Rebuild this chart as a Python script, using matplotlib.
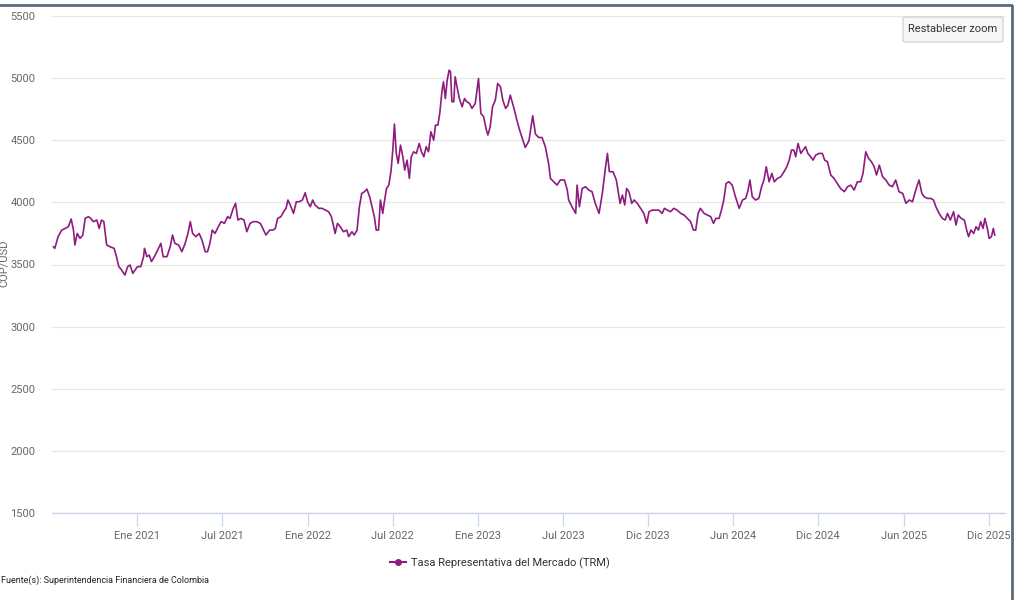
import numpy as np
import matplotlib
matplotlib.use("Agg")
import matplotlib.pyplot as plt
from matplotlib.lines import Line2D
from matplotlib.patches import FancyBboxPatch

plt.rcParams["font.family"] = ["Roboto", "DejaVu Sans"]

# días contados desde el 1 de julio de 2020 y TRM (COP/USD)
inicio = np.datetime64("2020-07-01")
dias = [
    5, 8, 15, 23, 30, 37, 43, 48, 51, 56, 62, 68, 73, 80, 85, 90, 98, 103, 108, 113,
    119, 126, 135, 140, 145, 151, 158, 164, 169, 175, 180, 185, 192, 198, 200, 205, 210, 215, 223, 230,
    235, 240, 248, 255, 260, 265, 273, 280, 287, 293, 298, 303, 310, 317, 323, 330, 335, 340, 345, 351,
    358, 364, 371, 378, 383, 390, 395, 400, 406, 413, 419, 426, 433, 440, 448, 455, 460, 468, 475, 480,
    485, 492, 498, 503, 507, 512, 519, 525, 531, 538, 544, 549, 555, 560, 565, 573, 580, 587, 594, 600,
    605, 608, 613, 619, 626, 633, 637, 644, 649, 655, 660, 665, 671, 676, 682, 687, 692, 696, 701, 705,
    710, 713, 718, 723, 728, 732, 735, 739, 743, 748, 753, 757, 762, 767, 771, 776, 782, 788, 793, 798,
    803, 808, 813, 819, 823, 828, 832, 837, 840, 844, 848, 852, 855, 858, 862, 865, 869, 874, 880, 885,
    890, 896, 901, 908, 915, 920, 926, 931, 935, 940, 945, 951, 956, 962, 967, 973, 978, 983, 990, 998,
    1003, 1015, 1023, 1031, 1037, 1044, 1051, 1058, 1065, 1069, 1076, 1083, 1090, 1099, 1105, 1108, 1115, 1123, 1126, 1131,
    1137, 1144, 1151, 1158, 1165, 1173, 1180, 1187, 1191, 1195, 1203, 1210, 1218, 1223, 1228, 1232, 1237, 1243, 1248, 1255,
    1262, 1269, 1275, 1280, 1287, 1294, 1301, 1308, 1313, 1319, 1326, 1333, 1340, 1348, 1355, 1362, 1369, 1375, 1380, 1385,
    1390, 1398, 1405, 1412, 1418, 1423, 1430, 1435, 1440, 1445, 1451, 1458, 1465, 1473, 1480, 1487, 1492, 1496, 1501, 1508,
    1515, 1521, 1526, 1531, 1537, 1543, 1548, 1555, 1562, 1569, 1575, 1580, 1585, 1590, 1594, 1599, 1605, 1610, 1615, 1620,
    1626, 1631, 1637, 1644, 1651, 1656, 1662, 1669, 1676, 1683, 1690, 1698, 1705, 1712, 1719, 1726, 1733, 1738, 1744, 1750,
    1756, 1762, 1767, 1773, 1780, 1787, 1794, 1801, 1808, 1815, 1823, 1830, 1837, 1844, 1851, 1858, 1864, 1869, 1876, 1883,
    1889, 1894, 1901, 1908, 1914, 1919, 1925, 1932, 1937, 1942, 1948, 1955, 1960, 1964, 1969, 1975, 1980, 1985, 1990, 1995,
    1999, 2005, 2008, 2013, 2017, 2020,
]
trm = [
    3643, 3630, 3724, 3777, 3790, 3804, 3866, 3777, 3657, 3750, 3710, 3737, 3871, 3885, 3871, 3845, 3858, 3790, 3858, 3845,
    3657, 3643, 3630, 3563, 3483, 3456, 3415, 3483, 3496, 3429, 3456, 3483, 3483, 3563, 3630, 3563, 3576, 3523, 3576, 3630,
    3670, 3563, 3563, 3643, 3737, 3670, 3657, 3603, 3670, 3750, 3845, 3750, 3724, 3750, 3697, 3603, 3603, 3670, 3777, 3750,
    3804, 3845, 3831, 3885, 3871, 3952, 3992, 3858, 3871, 3858, 3764, 3831, 3845, 3845, 3831, 3777, 3737, 3777, 3777, 3790,
    3871, 3885, 3925, 3952, 4019, 3979, 3911, 4005, 4005, 4019, 4078, 4005, 3965, 4019, 3979, 3952, 3952, 3938, 3925, 3885,
    3804, 3750, 3831, 3804, 3764, 3777, 3724, 3764, 3737, 3777, 3965, 4072, 4086, 4107, 4045, 3965, 3885, 3777, 3777, 4019,
    3911, 3992, 4112, 4139, 4260, 4448, 4630, 4394, 4314, 4461, 4367, 4260, 4340, 4193, 4367, 4407, 4394, 4474, 4407, 4367,
    4448, 4407, 4568, 4501, 4622, 4622, 4716, 4903, 4970, 4836, 4984, 5064, 5051, 4810, 4810, 5011, 4930, 4836, 4769, 4836,
    4810, 4796, 4756, 4796, 4997, 4716, 4689, 4595, 4542, 4609, 4769, 4823, 4957, 4930, 4823, 4756, 4783, 4863, 4769, 4649,
    4582, 4442, 4496, 4697, 4549, 4522, 4522, 4448, 4314, 4193, 4166, 4139, 4180, 4180, 4099, 4019, 3965, 3911, 4139, 3965,
    4112, 4126, 4099, 4086, 3992, 3911, 4072, 4287, 4394, 4247, 4247, 4180, 3992, 4059, 3979, 4112, 4086, 3992, 4019, 3992,
    3952, 3911, 3831, 3925, 3938, 3938, 3938, 3911, 3952, 3938, 3925, 3952, 3938, 3911, 3898, 3871, 3845, 3777, 3777, 3911,
    3952, 3911, 3898, 3885, 3831, 3871, 3871, 3938, 4019, 4153, 4166, 4139, 4045, 3952, 4019, 4032, 4099, 4180, 4045, 4019,
    4032, 4126, 4180, 4287, 4166, 4233, 4166, 4193, 4206, 4247, 4287, 4340, 4421, 4421, 4367, 4474, 4394, 4421, 4448, 4394,
    4367, 4340, 4381, 4394, 4394, 4340, 4327, 4220, 4193, 4153, 4112, 4086, 4126, 4139, 4099, 4166, 4166, 4233, 4407, 4354,
    4327, 4287, 4220, 4300, 4206, 4180, 4139, 4126, 4180, 4086, 4072, 3992, 4019, 4005, 4099, 4180, 4072, 4045, 4032, 4032,
    4019, 3965, 3911, 3871, 3858, 3911, 3858, 3925, 3818, 3898, 3871, 3858, 3777, 3724, 3777, 3750, 3804, 3777, 3845, 3790,
    3871, 3777, 3710, 3724, 3790, 3737,
]

tick_fechas = ["2021-01-01", "2021-07-02", "2022-01-01", "2022-07-02", "2023-01-01", "2023-07-02",
               "2023-12-31", "2024-06-30", "2024-12-29", "2025-06-30", "2025-12-29"]
tick_labels = ["Ene 2021", "Jul 2021", "Ene 2022", "Jul 2022", "Ene 2023", "Jul 2023",
               "Dic 2023", "Jun 2024", "Dic 2024", "Jun 2025", "Dic 2025"]
y_ticks = [1500, 2000, 2500, 3000, 3500, 4000, 4500, 5000, 5500]

fechas = inicio + np.array(dias).astype("timedelta64[D]")
color_linea = "#8e1c80"
gris = "#666666"

fig = plt.figure(figsize=(10.24, 6.0), dpi=100)
ax = fig.add_axes([52 / 1024, 1 - 513 / 600, (1005 - 52) / 1024, (513 - 16) / 600])

ax.plot(fechas, trm, color=color_linea, lw=1.2, solid_joinstyle="round",
        label="Tasa Representativa del Mercado (TRM)")

ax.set_ylim(1500, 5500)
ax.set_yticks(y_ticks)
ax.set_xlim(inicio + np.timedelta64(2, "D"), inicio + np.timedelta64(2042, "D"))
ax.set_xticks([np.datetime64(f) for f in tick_fechas])
ax.set_xticklabels(tick_labels)

# estilo tipo highcharts
ax.grid(axis="y", color="#e6e6e6", lw=0.9)
ax.set_axisbelow(True)
for lado in ["left", "right", "top"]:
    ax.spines[lado].set_visible(False)
ax.spines["bottom"].set_color("#ccd6eb")
ax.spines["bottom"].set_linewidth(1.0)
ax.tick_params(axis="y", length=0, pad=12, labelsize=8, labelcolor=gris)
ax.tick_params(axis="x", length=9, width=0.9, color="#ccd6eb", pad=4,
               labelsize=8, labelcolor=gris)

fig.text(4 / 1024, 1 - 263 / 600, "COP/USD", rotation=90, ha="center", va="center",
         fontsize=8, color=gris)

leg = ax.legend(handles=[Line2D([], [], color=color_linea, lw=1.5, marker="o", markersize=4)],
                labels=["Tasa Representativa del Mercado (TRM)"],
                loc="center", bbox_to_anchor=(500 / 1024, 1 - 563 / 600),
                bbox_transform=fig.transFigure, frameon=False, fontsize=8,
                handlelength=1.4, handletextpad=0.5)
for t in leg.get_texts():
    t.set_color("#333333")

fig.text(1 / 1024, 1 - 580 / 600, "Fuente(s): Superintendencia Financiera de Colombia",
         ha="left", va="center", fontsize=6.5, color="#222222")

# boton "Restablecer zoom"
boton = FancyBboxPatch((903 / 1024, 1 - 42 / 600), 100 / 1024, 25 / 600,
                       boxstyle="round,pad=0,rounding_size=0.003",
                       transform=fig.transFigure, facecolor="#f7f7f7",
                       edgecolor="#cccccc", lw=0.8)
fig.patches.append(boton)
fig.text(953 / 1024, 1 - 29.5 / 600, "Restablecer zoom", ha="center", va="center",
         fontsize=8, color="#333333")

# marco del contenedor
fig.add_artist(Line2D([0, 1011 / 1024], [1 - 5 / 600, 1 - 5 / 600],
                      transform=fig.transFigure, color="#5a6b7c", lw=2))
fig.add_artist(Line2D([1012 / 1024, 1012 / 1024], [1 - 6 / 600, 0],
                      transform=fig.transFigure, color="#5a6b7c", lw=2))

fig.savefig("out.png", dpi=100)
